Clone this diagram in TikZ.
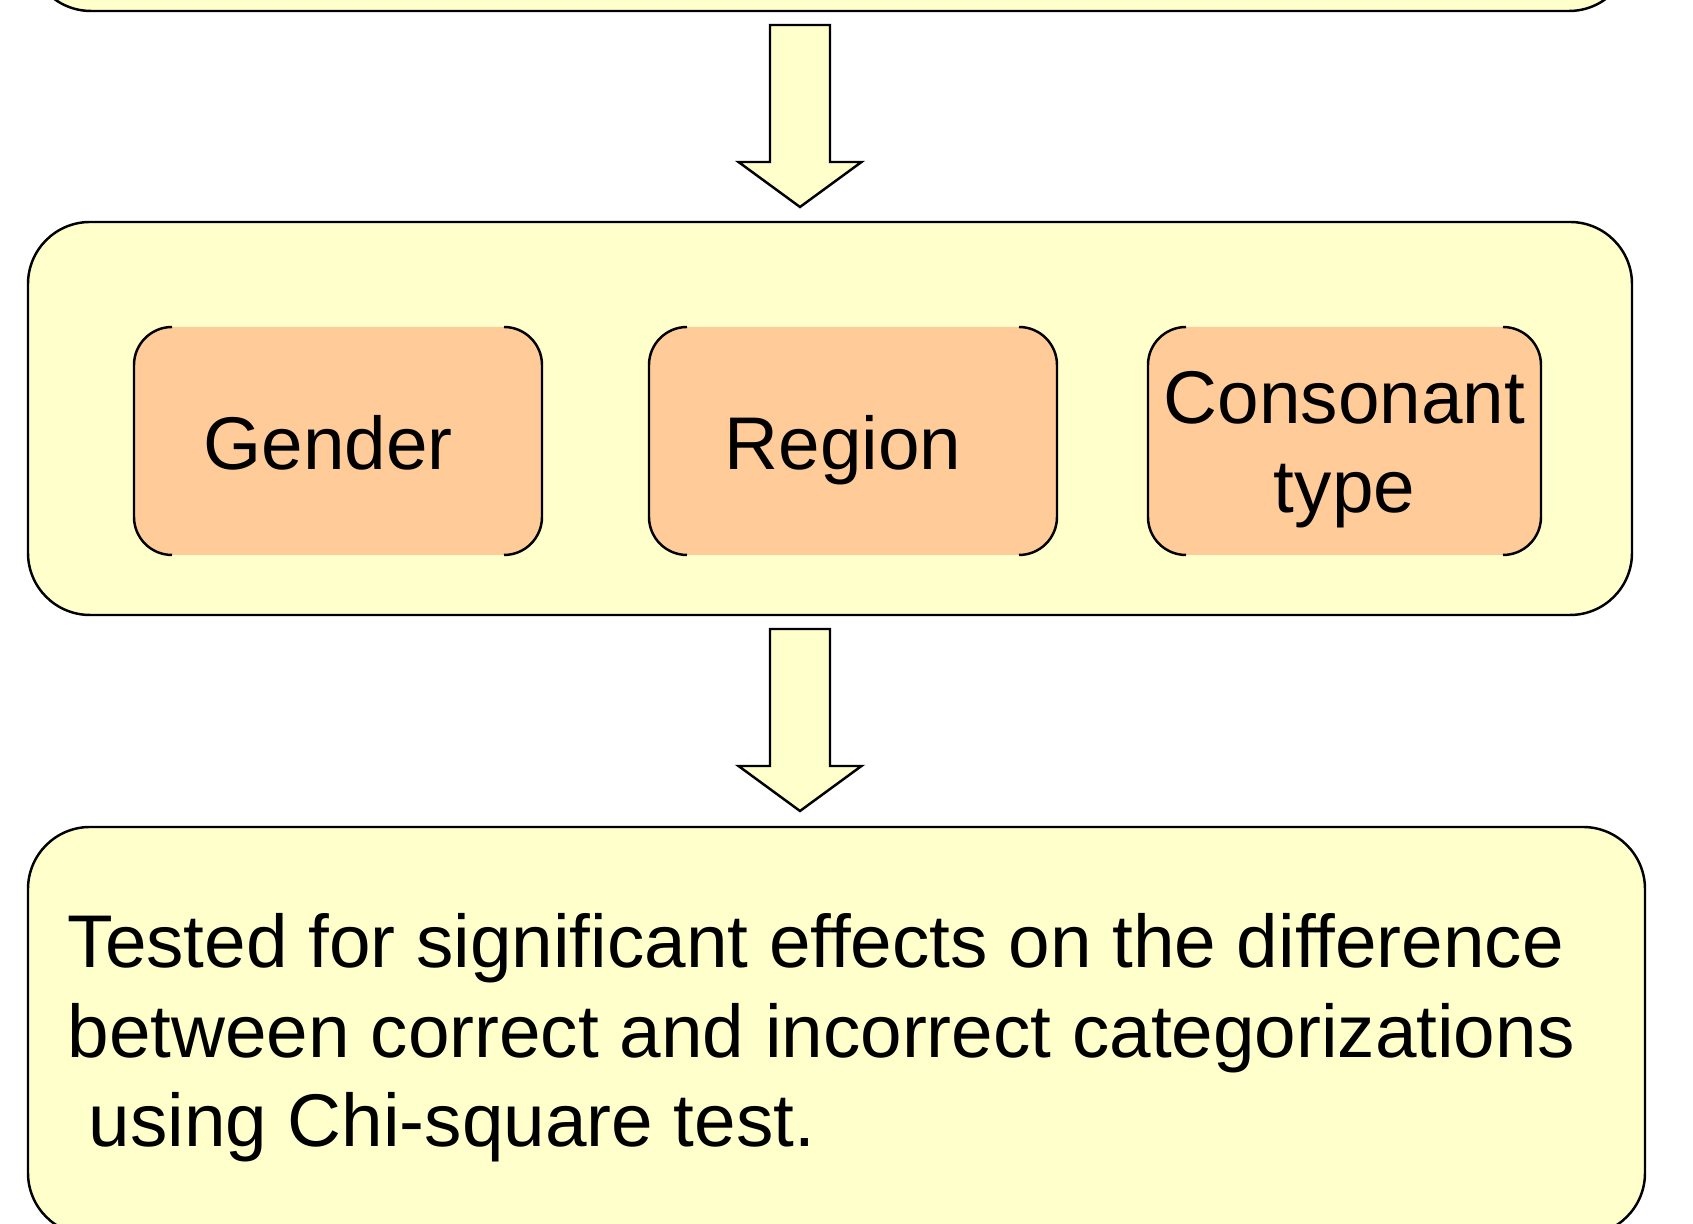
\documentclass[tikz,border=0pt]{standalone}
\usepackage{fontspec}
\setmainfont{Liberation Sans}
\usetikzlibrary{calc}

\definecolor{paleyellow}{HTML}{FFFFCC}
\definecolor{peach}{HTML}{FFCC99}

\tikzset{
  outerbox/.style={draw=black, fill=paleyellow, line width=0.7pt, rounded corners=0.62cm, outer sep=0pt, inner sep=0pt},
  factorbox/.style={fill=peach, rounded corners=0.38cm, minimum height=2.28cm, outer sep=0pt, inner sep=0pt, align=center,
    text height=0.74cm, text depth=0.16cm},
  blockarrow/.style={draw=black, fill=paleyellow, line width=0.7pt, line join=miter},
  bracket/.style={draw=black, line width=0.7pt}
}

\begin{document}
\begin{tikzpicture}[font=\fontsize{21.25}{25.6}\selectfont]
\useasboundingbox (0,0) rectangle (16.93,12.24);
\clip (0,0) rectangle (16.93,12.24);

% boxes
\node[outerbox, minimum width=16.02cm, minimum height=1.4cm] (prev) at (8.30,12.83) {};
\node[outerbox, minimum width=16.04cm, minimum height=3.93cm] (mid) at (8.30,8.055) {};
\node[outerbox, minimum width=16.17cm, minimum height=4.08cm] (result) at (8.365,1.93) {};

% factors
\node[factorbox, minimum width=4.08cm] (gender) at (3.38,7.83) {Gender\hspace*{0.2cm}};
\node[factorbox, minimum width=4.08cm] (region) at (8.53,7.83) {Region\hspace*{0.2cm}};
\node[factorbox, minimum width=3.93cm, text height=1.60cm] (consonant) at (13.445,7.83) {Consonant\\type};

\foreach \f in {gender,region,consonant}{
  \draw[bracket] ([xshift=0.38cm]\f.north west) arc[start angle=90,end angle=180,radius=0.38cm]
    -- ([yshift=0.38cm]\f.south west) arc[start angle=180,end angle=270,radius=0.38cm];
  \draw[bracket] ([xshift=-0.38cm]\f.north east) arc[start angle=90,end angle=0,radius=0.38cm]
    -- ([yshift=0.38cm]\f.south east) arc[start angle=0,end angle=-90,radius=0.38cm];
}

% arrows
\foreach \src in {prev,mid}
  \draw[blockarrow] ($(\src.south)+(-0.6,-0.14)$) -- ++(0.6,0) -- ++(0,-1.37) -- ++(0.315,0)
    -- ++(-0.615,-0.45) -- ++(-0.615,0.45) -- ++(0.315,0) -- cycle;

\node[anchor=base west, align=left, inner sep=0pt] (resulttext) at (0.67,0.77)
  {Tested for significant effects on the difference\\
   between correct and incorrect categorizations\\
   \hspace*{0.28em}using Chi-square test.};
\end{tikzpicture}
\end{document}
